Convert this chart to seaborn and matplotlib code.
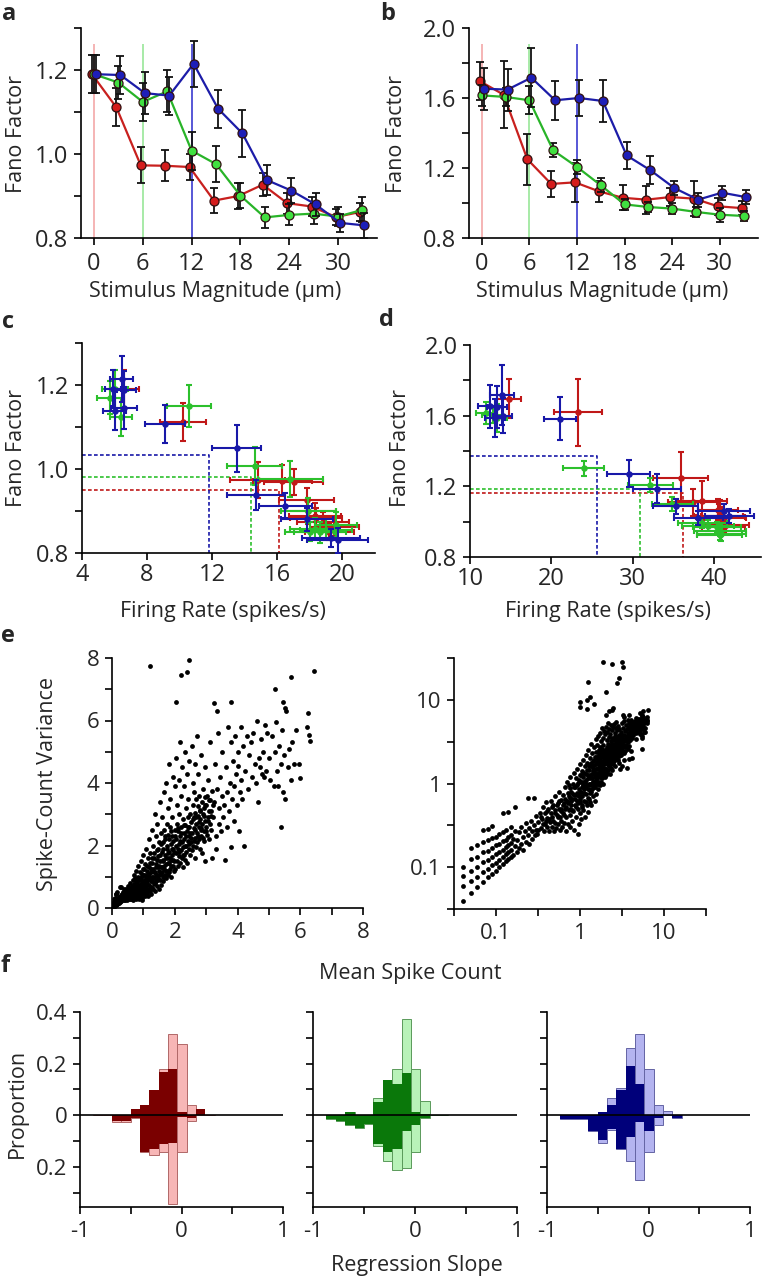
import seaborn as sns
import matplotlib.pyplot as plt

sns.set_style("ticks")
plt.rcParams["font.family"] = ["Open Sans", "DejaVu Sans"]
plt.rcParams["axes.linewidth"] = 1.2

#############
# Data
#############

stimulus = [0, 3, 6, 9, 12, 15, 18, 21, 24, 27, 30, 33]
threshold_stim = [0, 6, 12]  # red, green, blue

# panel a (fano factor vs stimulus, first population)
ff_a_red = [1.19, 1.111, 0.973, 0.972, 0.969, 0.889, 0.900, 0.927, 0.883, 0.875, 0.850, 0.862]
ff_a_green = [1.19, 1.170, 1.124, 1.149, 1.008, 0.976, 0.901, 0.849, 0.855, 0.858, 0.851, 0.867]
ff_a_blue = [1.19, 1.188, 1.145, 1.139, 1.215, 1.108, 1.049, 0.938, 0.913, 0.880, 0.836, 0.830]
err_a_red = [0.045, 0.045, 0.043, 0.037, 0.030, 0.030, 0.030, 0.028, 0.025, 0.022, 0.020, 0.022]
err_a_green = [0.045, 0.040, 0.045, 0.050, 0.045, 0.043, 0.030, 0.025, 0.025, 0.025, 0.022, 0.030]
err_a_blue = [0.045, 0.045, 0.050, 0.045, 0.055, 0.045, 0.055, 0.035, 0.030, 0.028, 0.022, 0.030]

# panel b (second population)
ff_b_red = [1.697, 1.619, 1.250, 1.109, 1.118, 1.067, 1.030, 1.019, 1.034, 1.025, 0.981, 0.971]
ff_b_green = [1.615, 1.606, 1.587, 1.301, 1.206, 1.101, 0.992, 0.977, 0.968, 0.949, 0.933, 0.926]
ff_b_blue = [1.653, 1.648, 1.716, 1.587, 1.600, 1.583, 1.272, 1.187, 1.086, 1.019, 1.059, 1.034]
err_b_red = [0.11, 0.19, 0.145, 0.076, 0.11, 0.06, 0.07, 0.08, 0.05, 0.10, 0.05, 0.04]
err_b_green = [0.06, 0.05, 0.08, 0.04, 0.04, 0.04, 0.03, 0.03, 0.03, 0.03, 0.04, 0.03]
err_b_blue = [0.12, 0.12, 0.17, 0.11, 0.10, 0.12, 0.076, 0.08, 0.04, 0.04, 0.04, 0.04]

# panel c (firing rate of first population)
rate_c_red = [6.6, 10.2, 14.8, 16.3, 17.0, 18.3, 17.9, 17.8, 18.4, 18.8, 19.2, 19.5]
rate_c_green = [6.0, 5.7, 6.4, 10.6, 14.6, 16.8, 17.9, 18.6, 19.0, 18.3, 18.0, 19.6]
rate_c_blue = [5.9, 6.6, 6.6, 6.0, 6.45, 9.1, 13.5, 14.7, 16.5, 17.8, 19.3, 19.7]
rerr_c_red = [0.9, 1.4, 1.7, 1.8, 1.8, 1.6, 1.7, 1.7, 1.6, 1.6, 1.5, 1.5]
rerr_c_green = [0.8, 0.8, 0.7, 1.35, 1.7, 2.0, 1.7, 1.6, 1.6, 1.5, 1.5, 1.3]
rerr_c_blue = [0.5, 0.7, 0.8, 0.7, 0.7, 1.2, 1.5, 1.8, 1.6, 1.6, 1.8, 1.9]
thr_rate_c = [16.1, 14.4, 11.8]
thr_ff_c = [0.949, 0.980, 1.034]

# panel d (firing rate of second population)
rate_d_red = [14.8, 23.3, 35.9, 37.4, 38.6, 40.5, 40.6, 41.2, 41.0, 40.8, 41.5, 41.2]
rate_d_green = [12.0, 12.8, 13.3, 24.0, 32.2, 34.9, 38.6, 39.3, 40.4, 40.8, 40.9, 40.7]
rate_d_blue = [12.5, 13.3, 13.9, 13.1, 14.0, 21.1, 29.5, 33.0, 35.3, 38.1, 41.3, 41.9]
rerr_d_red = [1.5, 3.0, 3.4, 3.0, 3.0, 2.5, 3.0, 2.8, 2.6, 3.0, 2.8, 2.6]
rerr_d_green = [1.3, 1.3, 1.3, 2.5, 2.8, 2.5, 3.0, 3.2, 3.0, 3.2, 3.0, 2.8]
rerr_d_blue = [1.5, 1.2, 1.5, 1.2, 1.2, 2.0, 2.6, 3.0, 2.8, 3.0, 3.2, 3.0]
thr_rate_d = [36.2, 30.9, 25.6]
thr_ff_d = [1.165, 1.184, 1.373]

# panel e (mean, variance) per neuron/condition
lattice_pts = [
    (0.04, 0.039), (0.04, 0.059), (0.04, 0.078), (0.04, 0.10),
    (0.05, 0.049), (0.05, 0.068), (0.05, 0.089), (0.05, 0.126), (0.05, 0.17),
    (0.06, 0.058), (0.06, 0.077), (0.06, 0.10), (0.06, 0.132), (0.06, 0.182),
    (0.07, 0.066), (0.07, 0.087), (0.07, 0.115), (0.07, 0.151), (0.07, 0.20), (0.07, 0.276),
    (0.08, 0.076), (0.08, 0.095), (0.08, 0.122), (0.08, 0.158), (0.08, 0.209), (0.08, 0.288),
    (0.09, 0.083), (0.09, 0.105), (0.09, 0.132), (0.09, 0.17), (0.09, 0.223), (0.09, 0.31),
    (0.10, 0.091), (0.10, 0.113), (0.10, 0.142), (0.10, 0.182), (0.10, 0.229),
    (0.11, 0.10), (0.11, 0.122), (0.11, 0.151), (0.11, 0.19), (0.11, 0.247),
    (0.12, 0.11), (0.12, 0.132), (0.12, 0.161), (0.12, 0.203), (0.12, 0.263), (0.12, 0.44),
    (0.13, 0.118), (0.13, 0.142), (0.13, 0.174), (0.13, 0.213), (0.13, 0.276),
    (0.14, 0.126), (0.14, 0.151), (0.14, 0.185), (0.14, 0.229), (0.14, 0.46),
    (0.15, 0.134), (0.15, 0.161), (0.15, 0.196), (0.15, 0.244), (0.15, 0.30),
]
low_pts = [
    (0.16, 0.14), (0.16, 0.22), (0.17, 0.18), (0.17, 0.27), (0.18, 0.15), (0.18, 0.21),
    (0.19, 0.26), (0.19, 0.17), (0.20, 0.19), (0.20, 0.30), (0.21, 0.23), (0.21, 0.16),
    (0.22, 0.27), (0.23, 0.20), (0.23, 0.34), (0.24, 0.24), (0.24, 0.67), (0.25, 0.19),
    (0.25, 0.29), (0.26, 0.36), (0.27, 0.22), (0.27, 0.27), (0.28, 0.32), (0.28, 0.67),
    (0.29, 0.24), (0.30, 0.41), (0.30, 0.28), (0.17, 0.52),
    (0.31, 0.25), (0.32, 0.35), (0.33, 0.45), (0.34, 0.29), (0.35, 0.38), (0.36, 0.52),
    (0.37, 0.27), (0.38, 0.33), (0.38, 0.44), (0.39, 0.60), (0.40, 0.30), (0.41, 0.39),
    (0.42, 0.50), (0.43, 0.27), (0.44, 0.35), (0.45, 0.45), (0.45, 0.62), (0.46, 0.30),
    (0.47, 0.40), (0.48, 0.55), (0.49, 0.27), (0.50, 0.34), (0.50, 0.48), (0.51, 0.70),
    (0.52, 0.29), (0.53, 0.42), (0.54, 0.58), (0.55, 0.33), (0.56, 0.50), (0.57, 0.80),
    (0.58, 0.28), (0.58, 0.40), (0.59, 0.64), (0.60, 0.36), (0.60, 0.50),
    (0.61, 0.30), (0.62, 0.44), (0.63, 0.72), (0.64, 0.58), (0.65, 0.34), (0.66, 0.90),
    (0.67, 0.50), (0.68, 0.27), (0.69, 0.40), (0.70, 0.62), (0.70, 1.05), (0.71, 0.78),
    (0.72, 0.33), (0.73, 0.48), (0.74, 0.95), (0.75, 0.68), (0.76, 0.30), (0.76, 0.42),
    (0.77, 1.20), (0.78, 0.56), (0.79, 0.80), (0.80, 0.36), (0.81, 0.65), (0.82, 1.00),
    (0.83, 0.47), (0.84, 1.35), (0.85, 0.72), (0.86, 0.28), (0.87, 0.55), (0.88, 0.90),
    (0.89, 1.15), (0.90, 0.40), (0.91, 0.62), (0.92, 0.78), (0.93, 1.50), (0.94, 0.50),
    (0.95, 1.02), (0.96, 0.33), (0.97, 0.70), (0.98, 0.86), (0.99, 1.25), (1.00, 0.45),
    (1.00, 0.60), (1.00, 1.70), (0.95, 0.25),
]
dense_pts = [
    (0.32, 0.28), (0.34, 0.40), (0.36, 0.33), (0.39, 0.36), (0.41, 0.47), (0.43, 0.38),
    (0.46, 0.52), (0.48, 0.36), (0.51, 0.44), (0.53, 0.56), (0.55, 0.40), (0.57, 0.62),
    (0.59, 0.47), (0.62, 0.55), (0.64, 0.42), (0.66, 0.66), (0.68, 0.52), (0.71, 0.58),
    (0.73, 0.70), (0.75, 0.50), (0.77, 0.88), (0.79, 0.62), (0.81, 0.48), (0.83, 0.74),
    (0.85, 0.90), (0.87, 0.66), (0.89, 0.52), (0.91, 0.95), (0.93, 0.72), (0.95, 0.58),
    (0.97, 1.10), (0.99, 0.80), (1.01, 0.66), (1.03, 1.25), (1.05, 0.90), (1.07, 0.52),
    (1.09, 1.05), (1.11, 0.78), (1.13, 1.35), (1.15, 0.92), (1.17, 0.60), (1.19, 1.10),
    (1.21, 1.45), (1.23, 0.85), (1.25, 1.25), (1.27, 0.65), (1.29, 1.60), (1.31, 0.98),
    (1.33, 1.15), (1.35, 1.75), (1.37, 0.80), (1.39, 1.30), (1.41, 1.05), (1.43, 1.55),
    (1.45, 0.90), (1.47, 1.90), (1.49, 1.35), (1.51, 1.05), (1.53, 1.70), (1.55, 1.30),
    (1.57, 2.05), (1.59, 1.15), (1.61, 1.50), (1.63, 1.90), (1.65, 1.00), (1.67, 1.35),
    (1.69, 2.30), (1.71, 1.60), (1.73, 1.20), (1.75, 2.00), (1.77, 1.45), (1.79, 1.75),
    (1.81, 1.15), (1.83, 2.20), (1.85, 1.60), (1.87, 1.35), (1.89, 2.45), (1.91, 1.90),
    (1.93, 1.55), (1.95, 2.15), (1.97, 1.20), (1.99, 1.80), (2.01, 2.30), (2.05, 2.00),
    (2.09, 2.55), (2.13, 1.80), (2.17, 2.15), (2.21, 2.40), (2.25, 1.70), (2.29, 2.65),
    (2.33, 2.00), (2.37, 2.30), (2.41, 2.60), (2.45, 2.05), (2.49, 2.40), (2.53, 2.25),
    (2.57, 2.85), (2.61, 2.15), (2.65, 2.50), (2.69, 2.90), (2.73, 2.30), (2.77, 2.75),
    (2.81, 3.15), (2.85, 2.55), (2.89, 2.25), (2.93, 2.95), (2.97, 3.30), (3.01, 2.45),
    (3.05, 2.80), (3.09, 3.10), (3.13, 3.45), (3.17, 2.95), (3.21, 3.30),
]
mid_pts = [
    (1.02, 0.80), (1.03, 1.05), (1.04, 0.38), (1.05, 0.55), (1.06, 1.40), (1.07, 0.70),
    (1.08, 0.95), (1.09, 1.90), (1.10, 0.48), (1.10, 1.20), (1.12, 0.62), (1.13, 0.85),
    (1.14, 1.60), (1.15, 0.40), (1.16, 1.05), (1.17, 2.20), (1.18, 0.75), (1.19, 1.30),
    (1.20, 0.55), (1.21, 0.95), (1.22, 1.75), (1.23, 0.68), (1.24, 1.15), (1.25, 0.46),
    (1.26, 2.50), (1.27, 0.85), (1.28, 1.45), (1.29, 1.00), (1.30, 0.60), (1.31, 2.00),
    (1.32, 1.25), (1.33, 0.78), (1.34, 1.60), (1.35, 0.95), (1.36, 3.00), (1.37, 0.55),
    (1.38, 1.15), (1.39, 2.30), (1.40, 0.85), (1.41, 1.40), (1.42, 1.85), (1.43, 0.70),
    (1.44, 1.05), (1.45, 2.70), (1.46, 1.30), (1.47, 0.95), (1.48, 1.65), (1.49, 0.62),
    (1.50, 2.10), (1.50, 1.20),
    (1.52, 0.90), (1.53, 1.50), (1.54, 3.40), (1.55, 1.10), (1.56, 2.40), (1.57, 0.75),
    (1.58, 1.80), (1.59, 1.30), (1.60, 2.90), (1.61, 1.00), (1.62, 2.10), (1.63, 1.55),
    (1.64, 0.85), (1.65, 3.70), (1.66, 1.25), (1.67, 2.50), (1.68, 1.70), (1.69, 1.05),
    (1.70, 2.20), (1.71, 1.40), (1.72, 4.00), (1.73, 0.95), (1.74, 1.90), (1.75, 2.70),
    (1.76, 1.20), (1.77, 1.60), (1.78, 3.20), (1.79, 2.35), (1.80, 1.05), (1.81, 1.45),
    (1.82, 4.60), (1.83, 1.80), (1.84, 2.60), (1.85, 1.25), (1.86, 3.50), (1.87, 2.05),
    (1.88, 1.55), (1.89, 1.00), (1.90, 2.90), (1.91, 1.70), (1.92, 2.30), (1.93, 1.35),
    (1.94, 4.20), (1.96, 1.90), (1.98, 1.50), (2.00, 2.50), (2.00, 3.90),
    (2.02, 1.25), (2.03, 1.75), (2.04, 2.20), (2.05, 4.80), (2.06, 1.50), (2.07, 2.70),
    (2.08, 3.30), (2.09, 1.90), (2.10, 1.35), (2.11, 2.45), (2.12, 4.10), (2.13, 1.65),
    (2.14, 2.05), (2.15, 3.00), (2.16, 5.30), (2.17, 1.45), (2.18, 2.30), (2.19, 1.85),
    (2.20, 3.60), (2.21, 2.60), (2.22, 1.60), (2.23, 2.10), (2.24, 4.50), (2.25, 1.30),
    (2.26, 2.85), (2.27, 1.95), (2.28, 2.40), (2.29, 3.90), (2.30, 1.70), (2.31, 2.20),
    (2.32, 5.00), (2.33, 1.55), (2.34, 2.65), (2.35, 3.20), (2.36, 2.00), (2.37, 1.80),
    (2.38, 2.45), (2.39, 4.30), (2.40, 1.45), (2.41, 2.90), (2.42, 2.15), (2.43, 3.50),
    (2.44, 1.90), (2.45, 2.60), (2.46, 4.70), (2.47, 2.30), (2.48, 1.70), (2.50, 3.00),
]
high_pts = [
    (2.52, 2.10), (2.53, 2.75), (2.54, 5.20), (2.55, 1.85), (2.56, 2.40), (2.57, 3.30),
    (2.58, 4.00), (2.59, 2.00), (2.60, 2.90), (2.61, 2.55), (2.62, 3.70), (2.63, 1.60),
    (2.64, 2.25), (2.65, 4.60), (2.66, 3.05), (2.67, 2.70), (2.68, 1.95), (2.69, 3.50),
    (2.70, 2.40), (2.71, 5.50), (2.72, 2.10), (2.73, 2.95), (2.74, 3.25), (2.75, 4.30),
    (2.76, 2.60), (2.77, 2.20), (2.78, 3.60), (2.80, 1.90), (2.81, 2.85), (2.82, 3.10),
    (2.83, 2.50), (2.84, 4.90), (2.85, 2.30), (2.86, 3.40), (2.87, 2.70), (2.88, 1.75),
    (2.89, 3.00), (2.90, 3.80), (2.92, 2.45), (2.93, 3.20), (2.94, 2.15), (2.95, 4.50),
    (2.96, 2.80), (2.97, 3.55), (2.98, 1.50), (3.00, 2.60), (3.00, 3.30), (3.02, 2.35),
    (3.04, 3.60), (3.05, 4.10), (3.07, 2.90), (3.08, 2.20), (3.10, 3.45), (3.12, 2.70),
    (3.13, 5.30), (3.15, 3.10), (3.17, 2.50), (3.19, 3.75), (3.20, 1.60),
    (3.22, 2.90), (3.25, 3.40), (3.28, 4.60), (3.30, 2.30), (3.32, 1.90), (3.35, 3.80),
    (3.38, 5.60), (3.40, 2.70), (3.42, 3.20), (3.45, 4.20), (3.48, 2.45), (3.50, 3.60),
    (3.52, 5.00), (3.55, 2.90), (3.58, 3.30), (3.60, 1.55), (3.62, 4.50), (3.65, 3.70),
    (3.68, 2.60), (3.70, 5.80), (3.72, 3.10), (3.75, 4.00), (3.78, 1.95), (3.80, 5.30),
    (3.82, 3.50), (3.85, 4.70), (3.88, 2.80), (3.90, 3.90), (3.92, 5.50), (3.95, 4.30),
    (3.98, 3.30), (4.00, 5.00), (4.02, 4.55), (4.05, 2.45), (4.08, 3.70), (4.10, 5.80),
    (4.12, 4.10), (4.15, 3.50), (4.18, 5.20), (4.20, 2.00),
    (4.25, 4.40), (4.30, 5.50), (4.33, 3.80), (4.38, 4.90), (4.42, 5.30), (4.45, 4.20),
    (4.50, 5.60), (4.55, 4.60), (4.60, 4.00), (4.62, 6.00), (4.65, 3.40), (4.70, 4.80),
    (4.72, 4.50), (4.75, 5.40), (4.78, 4.30), (4.80, 5.00), (4.85, 4.20), (4.88, 5.85),
    (4.92, 4.40), (4.95, 5.60), (5.00, 4.80), (5.05, 4.10), (5.10, 5.50), (5.15, 3.90),
    (5.18, 5.00), (5.22, 5.95), (5.25, 4.40), (5.30, 3.90), (5.33, 5.20), (5.38, 4.60),
    (5.40, 2.60), (5.42, 5.70), (5.45, 3.70), (5.48, 4.90), (5.50, 3.50), (5.55, 6.30),
    (5.60, 4.50), (5.65, 5.10), (5.72, 4.10), (5.75, 5.30), (5.80, 4.60), (5.88, 5.70),
    (5.95, 4.60), (6.00, 4.15), (6.20, 5.80), (6.25, 6.25), (6.30, 5.35), (6.28, 5.55),
]
outlier_pts = [
    (1.20, 7.75), (2.20, 7.45), (2.40, 7.55), (2.45, 7.95), (2.05, 6.60), (3.25, 6.55),
    (3.35, 6.30), (3.80, 6.60), (5.20, 7.00), (5.70, 7.40), (6.45, 7.60), (5.45, 6.60),
    (5.50, 6.40), (1.86, 28.0), (2.43, 27.0), (3.13, 28.0), (3.28, 25.0), (2.94, 18.0),
    (2.78, 16.0), (1.26, 16.3), (2.02, 12.4), (1.00, 9.5), (1.00, 8.3), (1.22, 10.0),
    (1.30, 10.8), (1.48, 9.0),
]

# panel f: regression slope histograms (upper / lower halves, dark / light)
slope_edges = [-0.868, -0.776, -0.684, -0.592, -0.500, -0.408, -0.316,
               -0.224, -0.132, -0.040, 0.052, 0.144, 0.236, 0.328]
red_top_dark = [0, 0, 0, 0, 0.026, 0.039, 0.097, 0.168, 0.178, 0.013, 0, 0.026, 0]
red_top_light = [0, 0, 0, 0, 0.026, 0.039, 0.097, 0.178, 0.316, 0.277, 0.039, 0, 0]
red_bot_dark = [0, 0, 0.022, 0.022, 0.010, 0.142, 0.132, 0.110, 0.107, 0.006, 0.009, 0, 0]
red_bot_light = [0, 0, 0.025, 0.025, 0.010, 0.142, 0.152, 0.142, 0.342, 0.142, 0.022, 0, 0]
green_top_dark = [0, 0, 0.013, 0, 0, 0.052, 0.135, 0.123, 0.165, 0.013, 0.005, 0, 0]
green_top_light = [0, 0, 0.013, 0, 0, 0.067, 0.135, 0.178, 0.372, 0.178, 0.054, 0, 0]
green_bot_dark = [0.013, 0.022, 0.039, 0.049, 0.035, 0.110, 0.142, 0.129, 0.062, 0.039, 0.009, 0, 0]
green_bot_light = [0.013, 0.022, 0.039, 0.049, 0.035, 0.119, 0.178, 0.213, 0.203, 0.142, 0.009, 0, 0]
blue_top_dark = [0, 0, 0, 0, 0.013, 0.039, 0.097, 0.191, 0.123, 0, 0, 0, 0]
blue_top_light = [0, 0, 0, 0, 0.013, 0.067, 0.107, 0.262, 0.316, 0.178, 0.039, 0.015, 0]
blue_bot_dark = [0.013, 0.013, 0.013, 0.061, 0.097, 0.052, 0.132, 0.084, 0.026, 0.061, 0.009, 0, 0.010]
blue_bot_light = [0.013, 0.013, 0.013, 0.061, 0.107, 0.055, 0.132, 0.178, 0.249, 0.142, 0.039, 0, 0.010]

#############
# Styles
#############

line_col = ["#c8201e", "#28b428", "#1c1ca8"]
face_col = ["#d41c1c", "#40e040", "#1e1eb8"]
vline_col = ["#f2a0a0", "#90e490", "#2a2acc"]
bar_col = ["#c01818", "#2cc02c", "#1818a8"]
dark_col = ["#7a0000", "#0a780a", "#00007a"]
light_col = ["#f7b6b6", "#b8f2b8", "#b4b4f0"]
light_edge = ["#b06868", "#5a9a5a", "#6464a4"]
offsets = [-0.25, 0.0, 0.25]

W, H = 763, 1280
fig = plt.figure(figsize=(W / 100, H / 100), dpi=100)


def box(l, t, r, b):
    return [l / W, 1 - b / H, (r - l) / W, (b - t) / H]


def style(ax, size):
    sns.despine(ax=ax)
    ax.tick_params(length=5, width=1.2, labelsize=size, pad=4, color="black")
    for s in ax.spines.values():
        s.set_color("black")


def text(x, y, s, rot=0, size=15.5, weight="normal"):
    fig.text(x / W, 1 - y / H, s, rotation=rot, ha="center", va="center",
             fontsize=size, fontweight=weight)


#############
# Panels a, b
#############

for box_px, ffs, errs, ylim, yticks, ylabels, vtop in [
    ((81, 28, 377, 238), [ff_a_red, ff_a_green, ff_a_blue], [err_a_red, err_a_green, err_a_blue],
     (0.8, 1.3), [0.8, 0.9, 1.0, 1.1, 1.2, 1.3], ["0.8", "", "1.0", "", "1.2", ""], 1.262),
    ((469, 28, 758, 238), [ff_b_red, ff_b_green, ff_b_blue], [err_b_red, err_b_green, err_b_blue],
     (0.8, 2.0), [0.8, 1.0, 1.2, 1.4, 1.6, 1.8, 2.0], ["0.8", "", "1.2", "", "1.6", "", "2.0"], 1.91),
]:
    ax = fig.add_axes(box(*box_px))
    for i in range(3):
        ax.vlines(threshold_stim[i], ylim[0], vtop, color=vline_col[i], lw=1.1, zorder=1)
    for i in range(3):
        xs = [s + offsets[i] for s in stimulus]
        ax.errorbar(xs, ffs[i], yerr=errs[i], fmt="none", ecolor="#111111",
                    elinewidth=1.3, capsize=2.6, capthick=1.3, zorder=2 + i)
        sns.lineplot(x=xs, y=ffs[i], ax=ax, color=line_col[i], lw=1.6, marker="o",
                     markersize=6.5, markerfacecolor=face_col[i], markeredgecolor="#301010",
                     markeredgewidth=0.9, zorder=2.5 + i)
    ax.set_xlim(-1.6, 34.8)
    ax.set_ylim(*ylim)
    ax.set_xticks([0, 6, 12, 18, 24, 30])
    ax.set_yticks(yticks)
    ax.set_yticklabels(ylabels)
    ax.set_xlabel("")
    ax.set_ylabel("")
    style(ax, 17)
    ax.tick_params(axis="x", pad=5)

#############
# Panels c, d
#############

for box_px, rates, rerrs, ffs, errs, thr_r, thr_f, xlim, xticks, ylim, yticks, ylabels in [
    ((82, 343, 375, 553), [rate_c_red, rate_c_green, rate_c_blue],
     [rerr_c_red, rerr_c_green, rerr_c_blue], [ff_a_red, ff_a_green, ff_a_blue],
     [err_a_red, err_a_green, err_a_blue], thr_rate_c, thr_ff_c, (4, 22), [4, 8, 12, 16, 20],
     (0.8, 1.3), [0.8, 0.9, 1.0, 1.1, 1.2, 1.3], ["0.8", "", "1.0", "", "1.2", ""]),
    ((470, 345, 761, 557), [rate_d_red, rate_d_green, rate_d_blue],
     [rerr_d_red, rerr_d_green, rerr_d_blue], [ff_b_red, ff_b_green, ff_b_blue],
     [err_b_red, err_b_green, err_b_blue], thr_rate_d, thr_ff_d, (10, 45.8), [10, 20, 30, 40],
     (0.8, 2.0), [0.8, 1.0, 1.2, 1.4, 1.6, 1.8, 2.0], ["0.8", "", "1.2", "", "1.6", "", "2.0"]),
]:
    ax = fig.add_axes(box(*box_px))
    for i in range(3):
        ax.plot([xlim[0], thr_r[i], thr_r[i]], [thr_f[i], thr_f[i], ylim[0]],
                color=bar_col[i], lw=1.2, ls=(0, (2.2, 1.4)), zorder=1)
    for i in range(3):
        ax.errorbar(rates[i], ffs[i], xerr=rerrs[i], yerr=errs[i], fmt="none",
                    ecolor=bar_col[i], elinewidth=1.5, capsize=2, capthick=1.5, zorder=2 + i)
        sns.scatterplot(x=rates[i], y=ffs[i], ax=ax, color=bar_col[i], s=22,
                        linewidth=0, zorder=2.5 + i)
    ax.set_xlim(*xlim)
    ax.set_ylim(*ylim)
    ax.set_xticks(xticks)
    ax.set_yticks(yticks)
    ax.set_yticklabels(ylabels)
    style(ax, 17)
    ax.tick_params(axis="x", pad=2)

#############
# Panel e
#############

all_pts = lattice_pts + low_pts + dense_pts + mid_pts + high_pts + outlier_pts
means = [p[0] for p in all_pts]
variances = [p[1] for p in all_pts]

ax = fig.add_axes(box(112, 658, 363, 908))
sns.scatterplot(x=means, y=variances, ax=ax, color="black", s=12, linewidth=0)
ax.set_xlim(0, 8)
ax.set_ylim(0, 8)
ax.set_xticks(range(9))
ax.set_xticklabels(["0", "", "2", "", "4", "", "6", "", "8"])
ax.set_yticks(range(9))
ax.set_yticklabels(["0", "", "2", "", "4", "", "6", "", "8"])
style(ax, 16)
ax.tick_params(axis="x", pad=5)

ax = fig.add_axes(box(454, 658, 706, 909))
sns.scatterplot(x=means, y=variances, ax=ax, color="black", s=12, linewidth=0)
ax.set_xscale("log")
ax.set_yscale("log")
ax.set_xlim(10 ** -1.5, 10 ** 1.5)
ax.set_ylim(10 ** -1.5, 10 ** 1.5)
half = [10 ** -1.5, 0.1, 10 ** -0.5, 1, 10 ** 0.5, 10, 10 ** 1.5]
ax.set_xticks(half)
ax.set_xticklabels(["", "0.1", "", "1", "", "10", ""])
ax.set_yticks(half)
ax.set_yticklabels(["", "0.1", "", "1", "", "10", ""])
ax.minorticks_off()
style(ax, 16)
ax.tick_params(axis="x", pad=5)

#############
# Panel f
#############

f_sets = [
    (red_top_dark, red_top_light, red_bot_dark, red_bot_light),
    (green_top_dark, green_top_light, green_bot_dark, green_bot_light),
    (blue_top_dark, blue_top_light, blue_bot_dark, blue_bot_light),
]
left_edges = slope_edges[:-1]
width = slope_edges[1] - slope_edges[0]
for i, (l, r) in enumerate([(80, 283), (313, 517), (547, 750)]):
    top_dark, top_light, bot_dark, bot_light = f_sets[i]
    ax = fig.add_axes(box(l, 1012, r, 1207))
    ax.bar(left_edges, top_light, width=width, align="edge", color=light_col[i],
           edgecolor=light_edge[i], linewidth=0.7, zorder=1)
    ax.bar(left_edges, [-v for v in bot_light], width=width, align="edge", color=light_col[i],
           edgecolor=light_edge[i], linewidth=0.7, zorder=1)
    ax.bar(left_edges, top_dark, width=width, align="edge", color=dark_col[i], linewidth=0, zorder=2)
    ax.bar(left_edges, [-v for v in bot_dark], width=width, align="edge", color=dark_col[i],
           linewidth=0, zorder=2)
    ax.axhline(0, color="black", lw=1.2, zorder=3)
    ax.set_xlim(-1, 1)
    ax.set_ylim(-0.355, 0.4)
    ax.set_xticks([-1, -0.5, 0, 0.5, 1])
    ax.set_xticklabels(["-1", "", "0", "", "1"])
    ax.set_yticks([-0.3, -0.2, -0.1, 0, 0.1, 0.2, 0.3, 0.4])
    if i == 0:
        ax.set_yticklabels(["", "0.2", "", "0", "", "0.2", "", "0.4"])
    else:
        ax.set_yticklabels([])
    style(ax, 16)
    ax.tick_params(axis="x", pad=5)

#############
# Labels
#############

text(17, 134, "Fano Factor", rot=90)
text(397, 134, "Fano Factor", rot=90)
text(215, 292, "Stimulus Magnitude (µm)")
text(602, 292, "Stimulus Magnitude (µm)")
text(17, 448, "Fano Factor", rot=90)
text(400, 448, "Fano Factor", rot=90)
text(223, 611, "Firing Rate (spikes/s)")
text(608, 612, "Firing Rate (spikes/s)")
text(48, 784, "Spike-Count Variance", rot=90)
text(410, 974, "Mean Spike Count")
text(17, 1103, "Proportion", rot=90)
text(417, 1266, "Regression Slope")

for x, y, s in [(9, 14, "a"), (388, 14, "b"), (8, 322, "c"), (386, 320, "d"), (8, 636, "e"), (5, 966, "f")]:
    text(x, y, s, size=17, weight="bold")

fig.savefig("out.png", dpi=100)
